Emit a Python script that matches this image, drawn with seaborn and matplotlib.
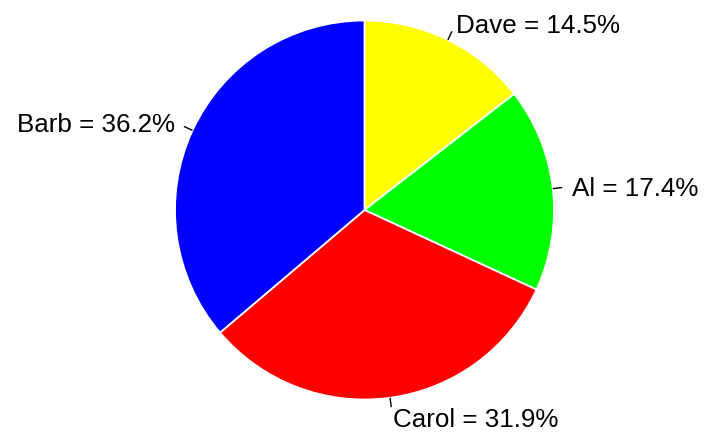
import numpy as np
import matplotlib
matplotlib.use("Agg")
import matplotlib.pyplot as plt
import matplotlib.transforms as mtransforms
import seaborn as sns

names = ["Dave", "Al", "Carol", "Barb"]
shares = [14.5, 17.4, 31.9, 36.2]
colors = ["#FFFF00", "#00FF00", "#FF0000", "#0000FF"]

sns.set_theme(style="white")
plt.rcParams["font.family"] = ["Liberation Sans", "DejaVu Sans"]

W, H, DPI = 706, 434, 100
cx, cy, R = 364.5, 210, 189.5  # pie centre and radius in pixels

fig = plt.figure(figsize=(W / DPI, H / DPI), dpi=DPI)
ax = fig.add_axes([0, 0, 1, 1])

wedges, _ = ax.pie(
    shares, colors=colors, startangle=90, counterclock=False, radius=1.0,
    wedgeprops=dict(edgecolor="white", linewidth=1.3),
)
ax.set_aspect("auto")
ax.set_xlim(-cx / R, (W - cx) / R)
ax.set_ylim(-(H - cy) / R, cy / R)
ax.axis("off")

# nudge labels down slightly so the glyphs sit centred on the anchor point
text_tr = mtransforms.offset_copy(ax.transData, fig=fig, x=0, y=-3, units="dots")

# leader ticks and labels at each slice's middle angle
total = sum(shares)
cum = 0.0
for name, v in zip(names, shares):
    mid = 90 - 360 * (cum + v / 2) / total
    cum += v
    a = np.deg2rad(mid)
    c, s = np.cos(a), np.sin(a)
    ax.plot([c, 1.05 * c], [s, 1.05 * s], color="black", lw=1.0, solid_capstyle="butt")
    ax.text(1.1 * c, 1.1 * s, f"{name} = {v}%", fontsize=18.7, transform=text_tr,
            ha="left" if c >= 0 else "right", va="center", color="black")

fig.savefig("out.png", dpi=DPI, facecolor="white")
